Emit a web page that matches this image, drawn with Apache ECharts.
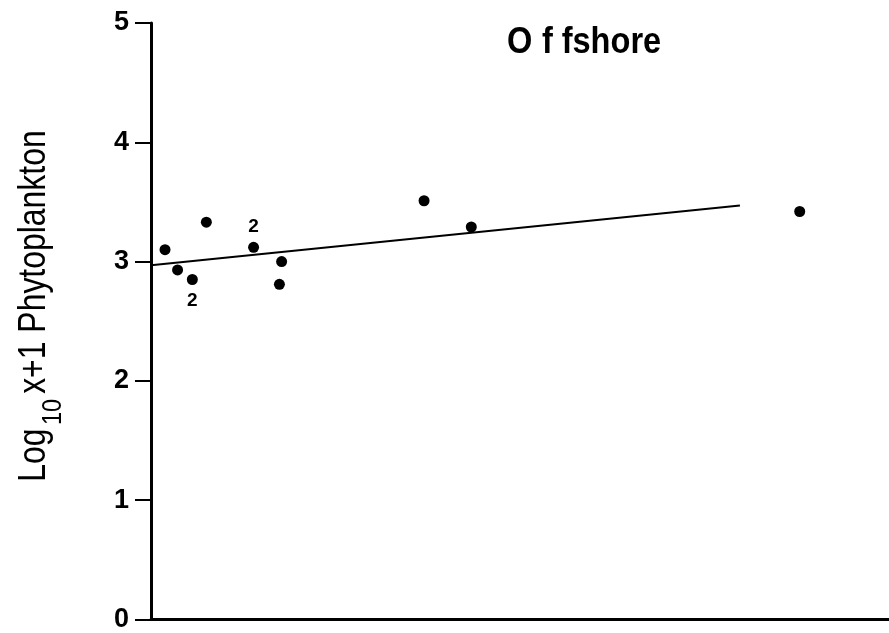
<!DOCTYPE html>
<html><head><meta charset="utf-8">
<script src="https://cdn.jsdelivr.net/npm/echarts@6/dist/echarts.min.js"></script>
<style>html,body{margin:0;padding:0;background:#fff}#c{width:889px;height:633px}</style>
</head><body><div id="c"></div>
<script>
// Observation points (x on arbitrary horizontal scale, y = log10(x+1) phytoplankton)
const pointX = [1.9, 3.6, 5.6, 7.5, 13.9, 17.7, 17.4, 37.0, 43.4, 87.9];
const pointY = [3.10, 2.93, 2.85, 3.33, 3.12, 3.00, 2.81, 3.51, 3.29, 3.42];
const pointCount = ['', '', '2', '', '2', '', '', '', '', ''];
const countPos = ['', '', 'bottom', '', 'top', '', '', '', '', ''];
// Regression line end points
const lineX = [0, 79.8];
const lineY = [2.97, 3.47];
const yTicks = [0, 1, 2, 3, 4, 5];

const FONT = 'Liberation Sans, Arial, Helvetica, sans-serif';

const scatterData = pointX.map((x, i) => {
  const d = { value: [x, pointY[i]] };
  if (pointCount[i]) {
    d.label = { show: true, formatter: pointCount[i], position: countPos[i], distance: 6,
      color: '#000', fontFamily: FONT, fontWeight: 'bold', fontSize: 19 };
  }
  return d;
});
const lineData = lineX.map((x, i) => [x, lineY[i]]);

const chart = echarts.init(document.getElementById('c'), null, { renderer: 'canvas' });
chart.setOption({
  animation: false,
  backgroundColor: '#fff',
  graphic: [
    {
      type: 'text', x: 507, y: 43, scaleX: 0.88, silent: true,
      style: {
        text: '{g|O}{h|f}fshore',
        fontFamily: FONT, fontWeight: 'bold', fontSize: 37, fill: '#000',
        align: 'left', verticalAlign: 'middle',
        rich: {
          g: { fontFamily: FONT, fontWeight: 'bold', fontSize: 37, fill: '#000', padding: [0, 11, 0, 0] },
          h: { fontFamily: FONT, fontWeight: 'bold', fontSize: 37, fill: '#000', padding: [0, 10, 0, 0] }
        }
      }
    },
    {
      type: 'text', x: 16, y: 306, rotation: Math.PI / 2, scaleX: 0.84, silent: true,
      style: {
        text: '{m|Log}{s|10}{m|x+1 Phytoplankton}',
        fontFamily: FONT, fontSize: 38, fill: '#000',
        align: 'center', verticalAlign: 'top',
        rich: {
          m: { fontFamily: FONT, fontSize: 38, lineHeight: 44, fill: '#000', verticalAlign: 'top' },
          s: { fontFamily: FONT, fontSize: 28, lineHeight: 28, fill: '#000', verticalAlign: 'top', padding: [23, 6, 0, 4] }
        }
      }
    }
  ],
  grid: { left: 151, right: 0, top: 23, bottom: 10, containLabel: false },
  xAxis: {
    type: 'value', min: 0, max: 100,
    axisLine: { show: true, onZero: false, lineStyle: { color: '#000', width: 3 } },
    axisTick: { show: false }, axisLabel: { show: false }, splitLine: { show: false }
  },
  yAxis: {
    type: 'value', min: yTicks[0], max: yTicks[yTicks.length - 1], interval: 1,
    axisLine: { show: true, lineStyle: { color: '#000', width: 3 } },
    axisTick: { show: true, inside: false, length: 16, lineStyle: { color: '#000', width: 2 } },
    axisLabel: { margin: 22, fontFamily: FONT, fontWeight: 'bold', fontSize: 27, color: '#000' },
    splitLine: { show: false }
  },
  series: [
    {
      type: 'line', data: lineData, symbol: 'none', silent: true,
      lineStyle: { color: '#000', width: 2 }, z: 1
    },
    {
      type: 'scatter', data: scatterData, symbol: 'circle', symbolSize: 11,
      itemStyle: { color: '#000', opacity: 1 },
      label: { show: false },
      z: 2
    }
  ]
});
</script></body></html>
